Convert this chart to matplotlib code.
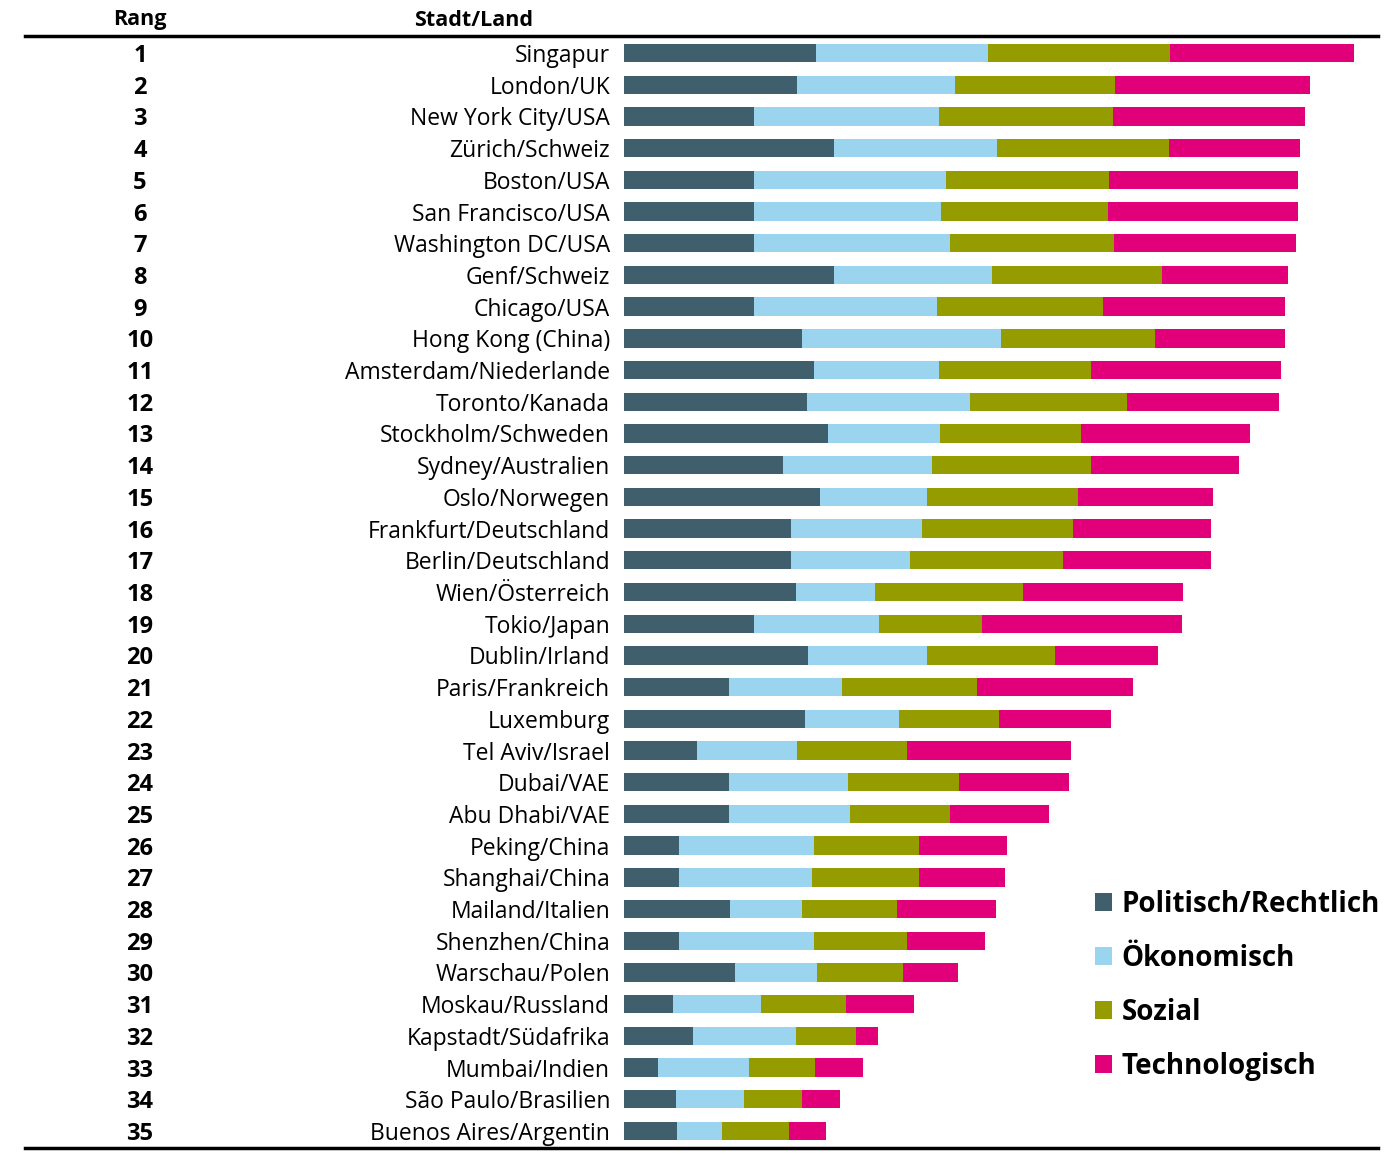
import numpy as np
import matplotlib.pyplot as plt
from matplotlib.lines import Line2D
from matplotlib.patches import Patch
from matplotlib.transforms import blended_transform_factory

plt.rcParams['font.family'] = ['Open Sans', 'DejaVu Sans']

staedte = ["Singapur", "London/UK", "New York City/USA", "Zürich/Schweiz", "Boston/USA",
           "San Francisco/USA", "Washington DC/USA", "Genf/Schweiz", "Chicago/USA",
           "Hong Kong (China)", "Amsterdam/Niederlande", "Toronto/Kanada",
           "Stockholm/Schweden", "Sydney/Australien", "Oslo/Norwegen",
           "Frankfurt/Deutschland", "Berlin/Deutschland", "Wien/Österreich",
           "Tokio/Japan", "Dublin/Irland", "Paris/Frankreich", "Luxemburg",
           "Tel Aviv/Israel", "Dubai/VAE", "Abu Dhabi/VAE", "Peking/China",
           "Shanghai/China", "Mailand/Italien", "Shenzhen/China", "Warschau/Polen",
           "Moskau/Russland", "Kapstadt/Südafrika", "Mumbai/Indien",
           "São Paulo/Brasilien", "Buenos Aires/Argentin"]

politisch = [192, 172.5, 130, 210, 130, 130, 130, 210, 130, 178, 189.5, 182.5,
             203.5, 159, 196, 166.5, 166.5, 171.5, 129.5, 184, 104.5, 181, 72.5,
             105, 105, 54.5, 54.5, 105.5, 54.5, 110.5, 48.5, 68.5, 34, 51.5, 52.5]
oekonomisch = [171.5, 158.5, 185, 162.5, 192, 186.5, 196, 158, 182.5, 198.5, 125,
               163.5, 112.5, 148.5, 106.5, 131.5, 119, 79, 125, 118.5, 113.5, 94,
               100.5, 118.5, 120.5, 135, 133.5, 72.5, 135, 82.5, 88, 103.5, 91, 68, 45]
sozial = [182, 160, 173.5, 172, 162.5, 167, 164, 170, 166, 154, 152, 156.5, 141,
          159, 151.5, 151, 153.5, 148, 103, 128, 134.5, 99.5, 109.5, 111.5, 100.5,
          105.5, 106.5, 94.5, 93.5, 85.5, 85, 59.5, 66, 58.5, 67]
technologisch = [184.5, 195, 192, 131.5, 189.5, 190.5, 181.5, 125.5, 182.5, 130,
                 190.5, 152, 169, 148.5, 134.5, 138, 148, 160.5, 200.5, 103.5, 156.5,
                 112, 164, 109.5, 98.5, 88, 86.5, 99.5, 78, 55, 68, 22.5, 48, 37.5, 37.5]

kategorien = ["Politisch/Rechtlich", "Ökonomisch", "Sozial", "Technologisch"]
farben = ["#3f5f6c", "#9ad4ee", "#959c00", "#e2007a"]

W, H = 1400, 1158
fig = plt.figure(figsize=(W / 100, H / 100), dpi=100)

# row 1 sits at y=53px, row 35 at y=1131px
pitch = (1131 - 53) / 34
y_top = 1 - 53 / pitch
y_bot = 1 + (H - 53) / pitch

ax = fig.add_axes([624 / W, 0, 1 - 624 / W, 1])
rang = np.arange(1, len(staedte) + 1)

links = np.zeros(len(staedte))
for werte, name, farbe in zip([politisch, oekonomisch, sozial, technologisch], kategorien, farben):
    ax.barh(rang, werte, left=links, height=0.58, color=farbe, label=name)
    links += np.array(werte)

ax.set_xlim(0, W - 624)
ax.set_ylim(y_bot, y_top)
ax.set_yticks(rang)
ax.set_yticklabels(staedte, fontsize=16.5)
ax.tick_params(axis='y', length=0, pad=10)
ax.set_xticks([])
for s in ax.spines.values():
    s.set_visible(False)

tr = blended_transform_factory(fig.transFigure, ax.transData)
for r in rang:
    ax.text(140 / W, r, str(r), transform=tr, ha='center', va='center_baseline',
            fontsize=17, fontweight='bold')

fig.text(140 / W, 1 - 20 / H, "Rang", ha='center', va='center', fontsize=15.5, fontweight='bold')
fig.text(474 / W, 1 - 20 / H, "Stadt/Land", ha='center', va='center', fontsize=15.5, fontweight='bold')

fig.add_artist(Line2D([25 / W, 1378 / W], [1 - 36 / H, 1 - 36 / H], color='black', lw=2.5))
fig.add_artist(Line2D([25 / W, 1378 / W], [1 - 1148 / H, 1 - 1148 / H], color='black', lw=2.5))

griffe = [Patch(facecolor=f, edgecolor='none') for f in farben]
leg = ax.legend(griffe, kategorien, loc='upper left', bbox_to_anchor=(1070 / W, 1 - 865 / H),
                bbox_transform=fig.transFigure, frameon=False, handlelength=0.6,
                handleheight=0.6, handletextpad=0.35, labelspacing=0.9,
                prop={'size': 20, 'weight': 'bold'})

fig.savefig("out.png", dpi=100)
